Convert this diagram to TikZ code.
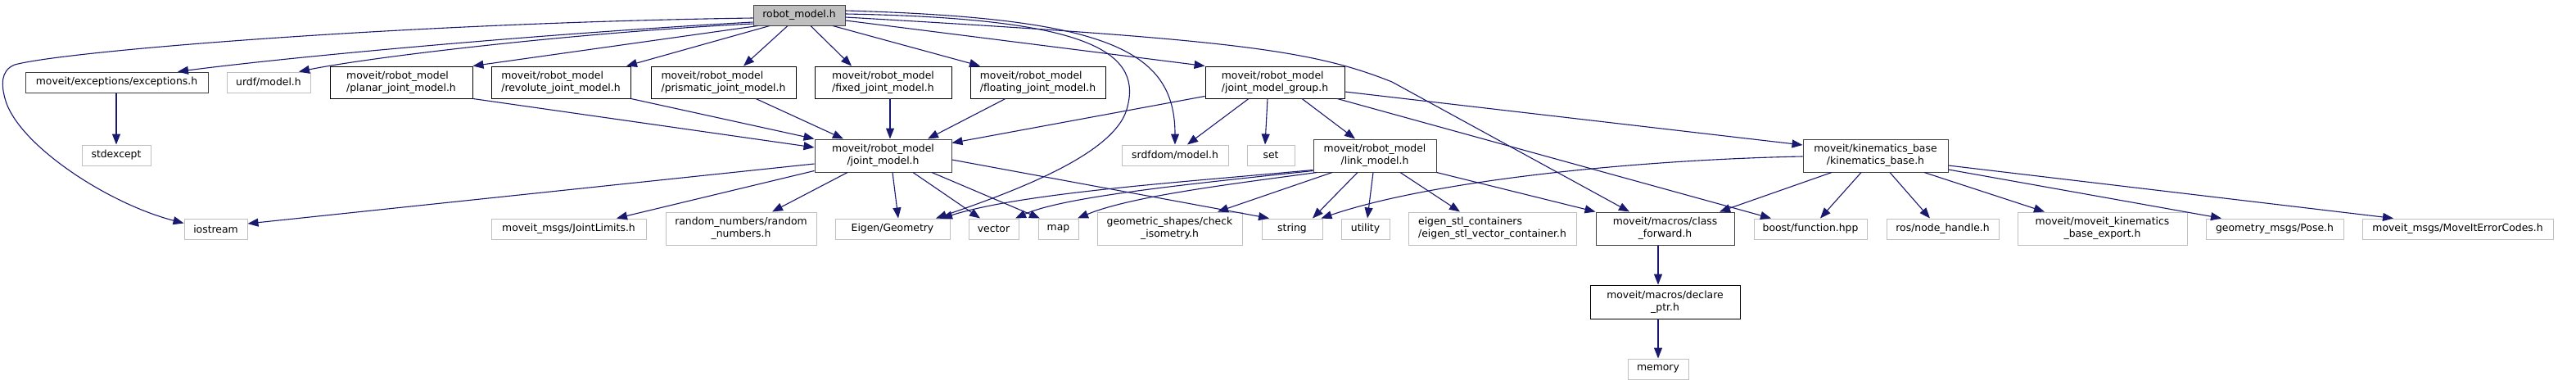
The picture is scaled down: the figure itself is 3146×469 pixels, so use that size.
\documentclass[tikz,border=0pt]{standalone}
\usepackage{fontspec}
\setmainfont{DejaVu Sans}
\usetikzlibrary{arrows.meta}
\definecolor{edgec}{HTML}{191970}
\definecolor{darkc}{HTML}{404040}
\definecolor{lightc}{HTML}{BFBFBF}
\definecolor{fillc}{HTML}{BFBFBF}
\tikzset{
  nbase/.style={draw, rectangle, inner sep=0pt, line width=1pt,
    font=\fontsize{12.4}{15}\selectfont, text=black, minimum height=25pt, align=center},
  lightb/.style={nbase, draw=lightc},
  darkb/.style={nbase, draw=darkc},
  blackb/.style={nbase, draw=black, line width=0.9pt},
  mainb/.style={nbase, draw=darkc, fill=fillc},
  conn/.style={draw=edgec, line width=1.1pt, -{Triangle[length=13pt,width=10pt]}},
}
\begin{document}
\begin{tikzpicture}[x=1pt,y=-1pt]
\useasboundingbox (0,0) rectangle (3146,469);
% row 0
\node[mainb, minimum width=112pt] (rm) at (976,18.5) {robot\_model.h};
% row 1
\node[darkb, minimum width=223pt] (exc) at (142.5,100.5) {moveit/exceptions/exceptions.h};
\node[lightb, minimum width=102pt] (urdf) at (328,100.5) {urdf/model.h};
\node[blackb, align=left, minimum width=174pt, minimum height=39pt] (planar) at (490,100.5) {moveit/robot\_model\\/planar\_joint\_model.h};
\node[blackb, align=left, minimum width=170pt, minimum height=39pt] (revol) at (685,100.5) {moveit/robot\_model\\/revolute\_joint\_model.h};
\node[blackb, align=left, minimum width=177pt, minimum height=39pt] (prism) at (883.5,100.5) {moveit/robot\_model\\/prismatic\_joint\_model.h};
\node[blackb, align=left, minimum width=167pt, minimum height=39pt] (fixed) at (1078.5,100.5) {moveit/robot\_model\\/fixed\_joint\_model.h};
\node[blackb, align=left, minimum width=165pt, minimum height=39pt] (floatj) at (1267.5,100.5) {moveit/robot\_model\\/floating\_joint\_model.h};
\node[blackb, align=left, minimum width=170pt, minimum height=39pt] (jmg) at (1557,100.5) {moveit/robot\_model\\/joint\_model\_group.h};
% row 2
\node[lightb, minimum width=84pt] (stdexc) at (142,189.5) {stdexcept};
\node[darkb, minimum width=167pt, minimum height=40pt] (jm) at (1078.5,190) {moveit/robot\_model\\/joint\_model.h};
\node[lightb, minimum width=130pt] (srdf) at (1435,189.5) {srdfdom/model.h};
\node[lightb, minimum width=58pt] (setn) at (1552,189.5) {set};
\node[darkb, minimum width=150pt, minimum height=40pt] (link) at (1679,190) {moveit/robot\_model\\/link\_model.h};
\node[darkb, minimum width=177pt, minimum height=40pt] (kin) at (2290.5,190) {moveit/kinematics\_base\\/kinematics\_base.h};
% row 3
\node[lightb, minimum width=77pt] (iostr) at (263.5,279.5) {iostream};
\node[lightb, minimum width=189pt] (jlim) at (694.5,279.5) {moveit\_msgs/JointLimits.h};
\node[lightb, minimum width=184pt, minimum height=40pt] (rand) at (905,279) {random\_numbers/random\\\_numbers.h};
\node[lightb, minimum width=140pt] (eigen) at (1090,279.5) {Eigen/Geometry};
\node[lightb, minimum width=61pt] (vect) at (1213.5,279.5) {vector};
\node[lightb, minimum width=49pt] (mapn) at (1292.5,279.5) {map};
\node[lightb, minimum width=177pt, minimum height=40pt] (geom) at (1428.5,279) {geometric\_shapes/check\\\_isometry.h};
\node[lightb, minimum width=74pt] (strn) at (1578,279.5) {string};
\node[lightb, minimum width=59pt] (util) at (1667.5,279.5) {utility};
\node[lightb, align=left, minimum width=205pt, minimum height=40pt] (estl) at (1822.5,279) {eigen\_stl\_containers\\/eigen\_stl\_vector\_container.h};
\node[darkb, minimum width=169pt, minimum height=40pt] (cf) at (2033.5,279) {moveit/macros/class\\\_forward.h};
\node[lightb, minimum width=138pt] (boost) at (2211,279.5) {boost/function.hpp};
\node[lightb, minimum width=137pt] (ros) at (2372.5,279.5) {ros/node\_handle.h};
\node[lightb, minimum width=207pt, minimum height=40pt] (kexp) at (2567.5,279) {moveit/moveit\_kinematics\\\_base\_export.h};
\node[lightb, minimum width=168pt] (pose) at (2778,279.5) {geometry\_msgs/Pose.h};
\node[lightb, minimum width=233pt] (err) at (3001.5,279.5) {moveit\_msgs/MoveItErrorCodes.h};
% row 4, 5
\node[blackb, minimum width=183pt, minimum height=41pt] (decl) at (2033.5,368.5) {moveit/macros/declare\\\_ptr.h};
\node[lightb, minimum width=74pt] (mem) at (2025,450.5) {memory};

% edges from robot_model.h
\draw[conn] ([shift={(0,3.5)}]rm.west) .. controls (500,28) and (80,62) .. (18,79)
   .. controls (0,86) and (2,105) .. (6,120) .. controls (20,175) and (130,248) .. ([shift={(0,-7)}]iostr.west);
\draw[conn] ([shift={(0,8.5)}]rm.west) .. controls (650,42) and (350,70) .. ([shift={(74.5,0)}]exc.north);
\draw[conn] ([shift={(0,10.5)}]rm.west) .. controls (700,40) and (450,70) .. ([shift={(37,0)}]urdf.north);
\draw[conn] ([shift={(6,0)}]rm.south west) -- (planar.north east);
\draw[conn] ([shift={(-36,0)}]rm.south) -- ([shift={(80,0)}]revol.north);
\draw[conn] ([shift={(-14,0)}]rm.south) -- ([shift={(24.5,0)}]prism.north);
\draw[conn] ([shift={(14,0)}]rm.south) -- ([shift={(-38.5,0)}]fixed.north);
\draw[conn] ([shift={(41,0)}]rm.south) -- ([shift={(-70.5,0)}]floatj.north);
\draw[conn] ([shift={(0,6.5)}]rm.east) -- (jmg.north west);
\draw[conn] ([shift={(0,2.5)}]rm.east) .. controls (1500,48) and (1600,60) .. (1700,100) -- ([shift={(-43.5,0)}]cf.north);
\draw[conn] ([shift={(0,-5.5)}]rm.east) .. controls (1350,22) and (1435,60) .. (srdf.north);
\draw[conn] ([shift={(0,-1.5)}]rm.east) .. controls (1320,22) and (1395,60) .. (1377,130)
   .. controls (1365,185) and (1250,230) .. ([shift={(53,0)}]eigen.north);

% exceptions
\draw[conn] (exc.south -| stdexc.north) -- (stdexc.north);

% joint model headers -> joint_model.h
\draw[conn] (planar.south east) -- ([shift={(0,-10)}]jm.west);
\draw[conn] (revol.south east) -- (jm.north west);
\draw[conn] ([shift={(39.5,0)}]prism.south) -- ([shift={(-48.5,0)}]jm.north);
\draw[conn] ([shift={(8.5,0)}]fixed.south) -- ([shift={(8.5,0)}]jm.north);
\draw[conn] ([shift={(-39.5,0)}]floatj.south) -- ([shift={(54.5,0)}]jm.north);

% joint_model_group.h
\draw[conn] ([shift={(0,-3)}]jmg.south west) -- ([shift={(0,5)}]jm.north east);
\draw[conn] ([shift={(-32,0)}]jmg.south) -- ([shift={(15,0)}]srdf.north);
\draw[conn] ([shift={(-9,0)}]jmg.south) -- ([shift={(-7,0)}]setn.north);
\draw[conn] ([shift={(33,0)}]jmg.south) -- ([shift={(-24,0)}]link.north);
\draw[conn] ([shift={(76,0)}]jmg.south) -- ([shift={(-48,0)}]boost.north);
\draw[conn] ([shift={(0,11.5)}]jmg.east) -- ([shift={(0,-13)}]kin.west);

% joint_model.h
\draw[conn] ([shift={(0,10)}]jm.west) -- ([shift={(0,-6.5)}]iostr.east);
\draw[conn] ([shift={(0,-2)}]jm.south west) -- ([shift={(58.5,0)}]jlim.north);
\draw[conn] ([shift={(-43.5,0)}]jm.south) -- ([shift={(38,0)}]rand.north);
\draw[conn] ([shift={(11.5,0)}]jm.south) -- ([shift={(7,0)}]eigen.north);
\draw[conn] ([shift={(36.5,0)}]jm.south) -- ([shift={(-16.5,0)}]vect.north);
\draw[conn] ([shift={(59.5,0)}]jm.south) -- ([shift={(-22.5,0)}]mapn.north);
\draw[conn] ([shift={(0,5)}]jm.east) -- ([shift={(-28,0)}]strn.north);

% link_model.h
\draw[conn] ([shift={(0,-3)}]link.south west) .. controls (1450,222) and (1250,235) .. ([shift={(60,0)}]eigen.north);
\draw[conn] ([shift={(0,-2)}]link.south west) .. controls (1450,225) and (1300,240) .. ([shift={(26.5,0)}]vect.north);
\draw[conn] ([shift={(5,0)}]link.south west) .. controls (1500,225) and (1380,240) .. ([shift={(23.5,0)}]mapn.north);
\draw[conn] ([shift={(-52,0)}]link.south) -- ([shift={(58.5,0)}]geom.north);
\draw[conn] ([shift={(-21,0)}]link.south) -- ([shift={(25,0)}]strn.north);
\draw[conn] ([shift={(-2,0)}]link.south) -- ([shift={(2.5,0)}]util.north);
\draw[conn] ([shift={(31,0)}]link.south) -- ([shift={(-39.5,0)}]estl.north);
\draw[conn] (link.south east) -- (cf.north west);

% kinematics_base.h
\draw[conn] ([shift={(0,1)}]kin.west) .. controls (2000,195) and (1750,220) .. ([shift={(-2,0)}]strn.north east);
\draw[conn] ([shift={(-53.5,0)}]kin.south) -- ([shift={(66.5,0)}]cf.north);
\draw[conn] ([shift={(-17.5,0)}]kin.south) -- ([shift={(12,0)}]boost.north);
\draw[conn] ([shift={(17.5,0)}]kin.south) -- ([shift={(-15.5,0)}]ros.north);
\draw[conn] ([shift={(59.5,0)}]kin.south) -- ([shift={(-70.5,0)}]kexp.north);
\draw[conn] ([shift={(0,17)}]kin.east) -- ([shift={(-65,0)}]pose.north);
\draw[conn] ([shift={(0,12)}]kin.east) -- ([shift={(-78.5,0)}]err.north);

% macros
\draw[conn] (cf.south -| mem.north) -- (decl.north -| mem.north);
\draw[conn] (decl.south -| mem.north) -- (mem.north);
\end{tikzpicture}
\end{document}
